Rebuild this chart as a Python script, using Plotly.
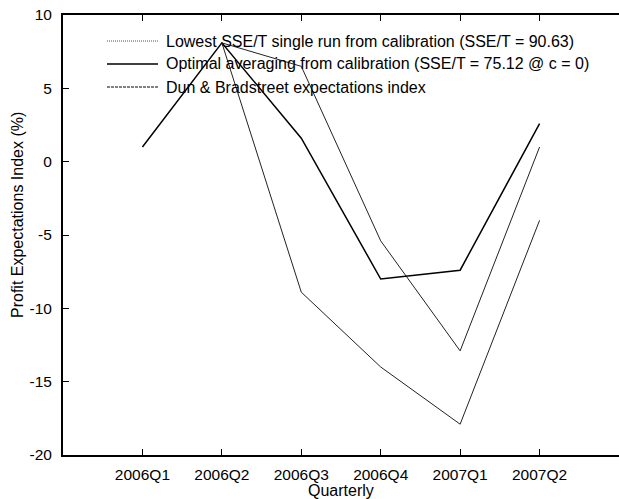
import plotly.graph_objects as go

quarters = ["2006Q1", "2006Q2", "2006Q3", "2006Q4", "2007Q1", "2007Q2"]
single_run = [None, 8.1, 6.5, -5.4, -12.9, 1.0]
optimal_avg = [1.0, 8.1, 1.6, -8.0, -7.4, 2.6]
dun_bradstreet = [None, 8.1, -8.9, -14.0, -17.9, -4.0]
y_ticks = [-20, -15, -10, -5, 0, 5, 10]

names = [
    "Lowest SSE/T single run from calibration (SSE/T = 90.63)",
    "Optimal averaging from calibration (SSE/T = 75.12 @ c = 0)",
    "Dun & Bradstreet expectations index",
]

W, H = 619, 499
L, R, T, B = 63, 0, 15, 44
PW, PH = W - L - R, H - T - B

FONT = "Liberation Sans, Arial, Helvetica, sans-serif"
xpos = list(range(1, len(quarters) + 1))

fig = go.Figure()
styles = [
    dict(color="#222222", width=1),
    dict(color="black", width=1.5),
    dict(color="#222222", width=1),
]
legend_styles = [
    dict(color="#555555", width=1, dash="1px,1px"),
    dict(color="black", width=1.5),
    dict(color="black", width=1, dash="3px,1px"),
]
series = [single_run, optimal_avg, dun_bradstreet]
for name, ys, st in zip(names, series, styles):
    fig.add_trace(go.Scatter(x=xpos, y=ys, mode="lines", name=name, line=st,
                             showlegend=False, connectgaps=False))

def px2paper(px, py):
    return (px - L) / PW, (H - B - py) / PH

# manual legend
shapes = []
annotations = []
rows_y = [41, 64, 87]
for name, st, ry in zip(names, legend_styles, rows_y):
    x0, y0 = px2paper(107, ry)
    x1, _ = px2paper(158, ry)
    shapes.append(dict(type="line", xref="paper", yref="paper", x0=x0, x1=x1,
                       y0=y0, y1=y0, line=st))
    tx, _ = px2paper(164, ry)
    annotations.append(dict(xref="paper", yref="paper", x=tx, y=y0, text=name,
                            showarrow=False, xanchor="left", yanchor="middle",
                            font=dict(family=FONT, size=16, color="black")))

# axis titles
ax, ay = px2paper(341, 490)
annotations.append(dict(xref="paper", yref="paper", x=ax, y=ay, text="Quarterly",
                        showarrow=False, xanchor="center", yanchor="middle",
                        font=dict(family=FONT, size=16, color="black")))
bx, by = px2paper(17, 215)
annotations.append(dict(xref="paper", yref="paper", x=bx, y=by,
                        text="Profit Expectations Index (%)", textangle=-90,
                        showarrow=False, xanchor="center", yanchor="middle",
                        font=dict(family=FONT, size=16, color="black")))

fig.update_layout(
    width=W, height=H,
    margin=dict(l=L, r=R, t=T, b=B, pad=0),
    paper_bgcolor="white", plot_bgcolor="white",
    shapes=shapes, annotations=annotations,
    font=dict(family=FONT, size=15.5, color="black"),
    xaxis=dict(range=[0, 7], tickvals=xpos, ticktext=quarters,
               ticks="inside", ticklen=6, tickwidth=1, tickcolor="black",
               showline=True, linewidth=2, linecolor="black", mirror="ticks",
               showgrid=False, zeroline=False, ticklabelstandoff=4),
    yaxis=dict(range=[-20, 10], tickvals=y_ticks,
               ticktext=[str(v) for v in y_ticks],
               ticks="inside", ticklen=6, tickwidth=1, tickcolor="black",
               showline=True, linewidth=2, linecolor="black", mirror=False,
               showgrid=False, zeroline=False, ticklabelstandoff=6),
)

fig.write_html(
    "out.html",
    config={"displayModeBar": False},
    post_script="document.body.style.margin='0';document.body.style.overflow='hidden';",
)
